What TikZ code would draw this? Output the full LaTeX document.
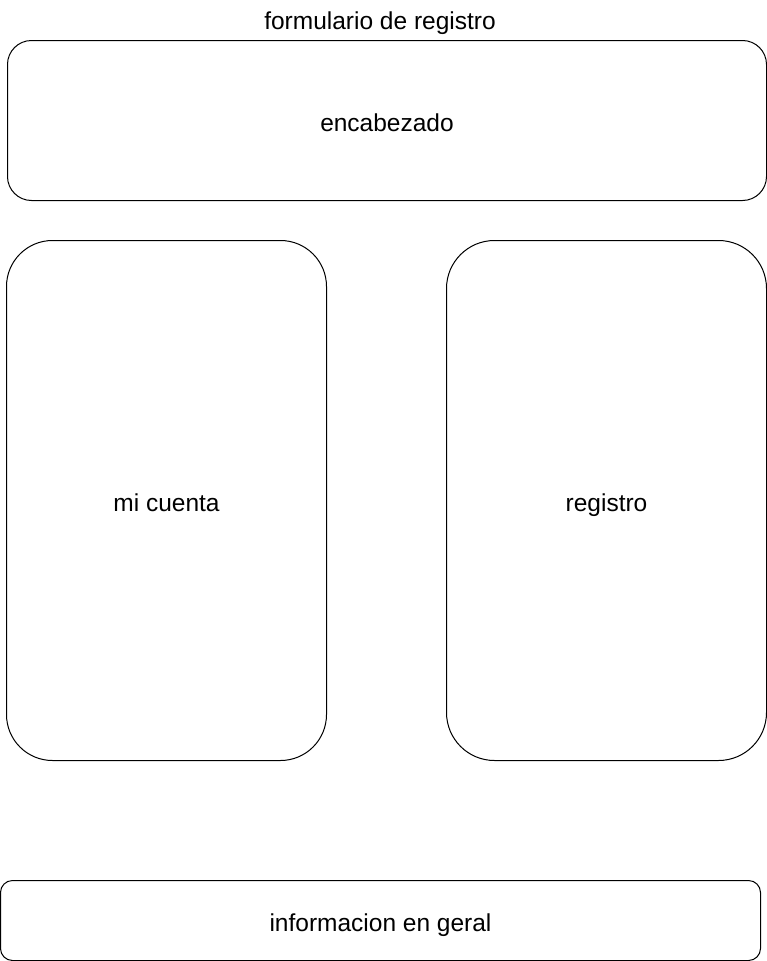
\documentclass[tikz,border=0pt]{standalone}
\usepackage{fontspec}
\setmainfont{Liberation Sans}
\usetikzlibrary{positioning}

\begin{document}
\begin{tikzpicture}[x=1pt,y=-1pt,
    caja/.style = {draw=black, line width=1pt, rounded corners=#1,
            inner sep=0pt, outer sep=0pt, text height=26pt, text depth=5pt,
            font=\fontsize{24.5}{29}\selectfont},
    texto/.style = {inner sep=0pt, text height=26pt, text depth=5pt,
            font=\fontsize{24.5}{29}\selectfont}]
            \useasboundingbox (0,0) rectangle (767,961);
            \node[texto] (titulo) at (380,19) {formulario de registro};
            \node[caja=24pt, minimum width=759pt, minimum height=160pt] (encabezado) at (387,120.5) {encabezado};
            \node[caja=46pt, minimum width=320pt, minimum height=520pt] (cuenta) at (166.5,500.5) {mi cuenta};
            \node[caja=48pt, minimum width=320pt, minimum height=520pt] (registro) at (606.5,500.5) {registro};
            \node[caja=12pt, minimum width=760pt, minimum height=80pt] (info) at (380.5,920.5) {informacion en geral};
        \end{tikzpicture}
\end{document}
